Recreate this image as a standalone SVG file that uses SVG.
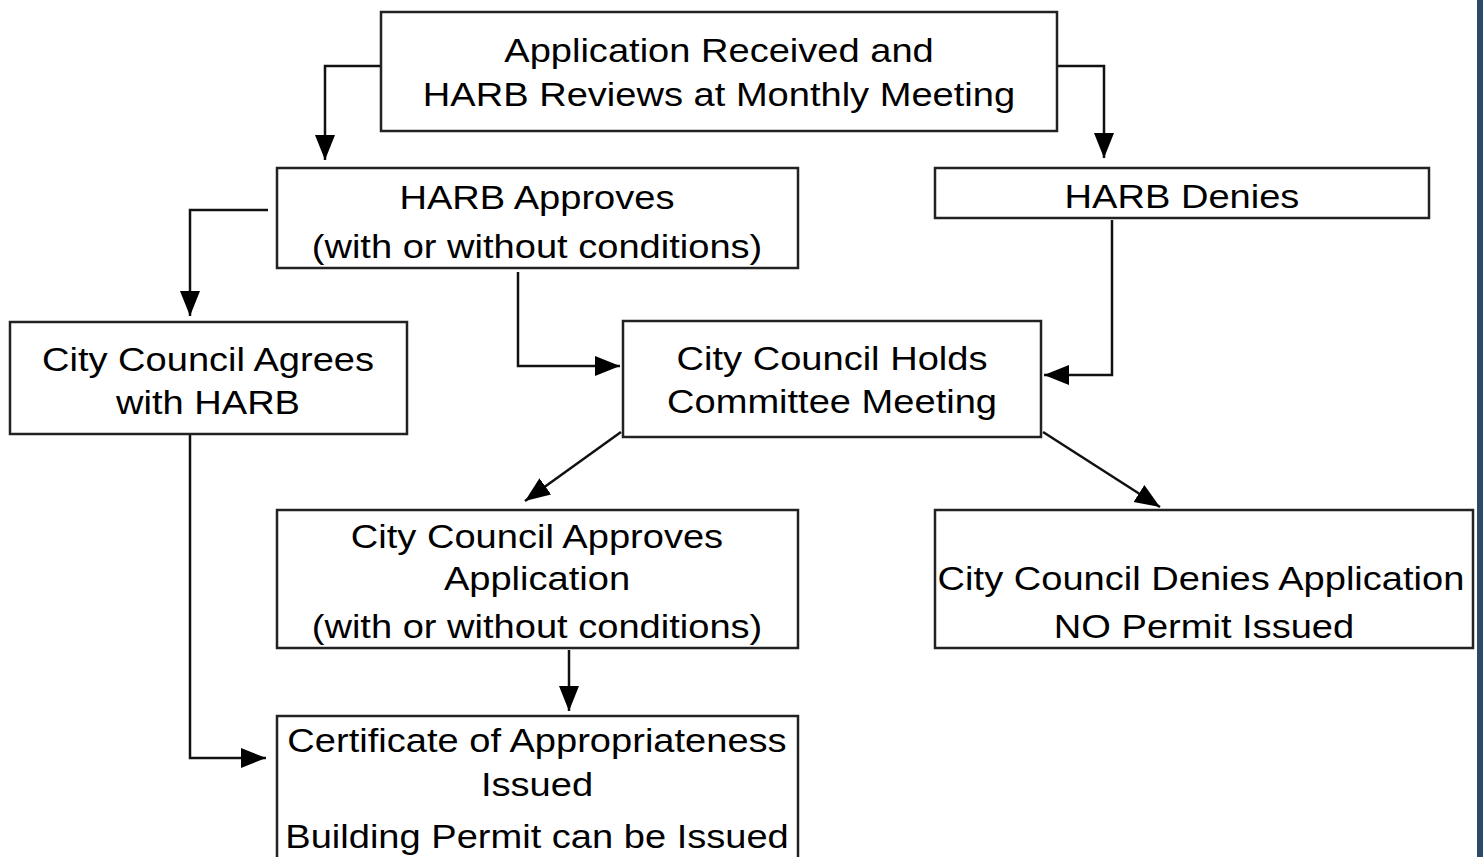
<svg xmlns="http://www.w3.org/2000/svg" width="1483" height="857" viewBox="0 0 1483 857">
<style>
.box{fill:#fff;stroke:#222;stroke-width:2.5}
.t{font-family:"Liberation Sans",Arial,sans-serif;font-size:34px;fill:#000;text-anchor:middle}
.c{fill:none;stroke:#111;stroke-width:2.5}
</style>
<defs>
<marker id="a" viewBox="0 0 10 10" refX="10" refY="5" markerWidth="10" markerHeight="10" orient="auto" markerUnits="strokeWidth">
<path d="M0,1 L10,5 L0,9 z" fill="#000"/>
</marker>
</defs>
<rect width="1483" height="857" fill="#fff"/>
<rect x="1477" y="0" width="6" height="857" fill="#2b4a68"/>
<g id="connectors">
<path class="c" d="M381,66 H325 V160" marker-end="url(#a)"/>
<path class="c" d="M1057,66 H1104 V158" marker-end="url(#a)"/>
<path class="c" d="M268,210 H190 V316" marker-end="url(#a)"/>
<path class="c" d="M518,272 V366 H620" marker-end="url(#a)"/>
<path class="c" d="M1112,220 V375 H1044" marker-end="url(#a)"/>
<path class="c" d="M621,432 L525,501" marker-end="url(#a)"/>
<path class="c" d="M1043,432 L1160,507" marker-end="url(#a)"/>
<path class="c" d="M569,650 V711" marker-end="url(#a)"/>
<path class="c" d="M190,434 V758 H266" marker-end="url(#a)"/>
</g>
<g id="n1"><rect class="box" x="381" y="12" width="676" height="119"/>
<text class="t" transform="translate(719,62) scale(1.12,1)">Application Received and</text>
<text class="t" transform="translate(719,106) scale(1.12,1)">HARB Reviews at Monthly Meeting</text></g>
<g id="n2"><rect class="box" x="277" y="168" width="521" height="100"/>
<text class="t" transform="translate(537,209) scale(1.12,1)">HARB Approves</text>
<text class="t" transform="translate(537,258) scale(1.12,1)">(with or without conditions)</text></g>
<g id="n3"><rect class="box" x="935" y="168" width="494" height="50"/>
<text class="t" transform="translate(1182,208) scale(1.12,1)">HARB Denies</text></g>
<g id="n4"><rect class="box" x="10" y="322" width="397" height="112"/>
<text class="t" transform="translate(208,371) scale(1.12,1)">City Council Agrees</text>
<text class="t" transform="translate(208,414) scale(1.12,1)">with HARB</text></g>
<g id="n5"><rect class="box" x="623" y="321" width="418" height="116"/>
<text class="t" transform="translate(832,370) scale(1.12,1)">City Council Holds</text>
<text class="t" transform="translate(832,413) scale(1.12,1)">Committee Meeting</text></g>
<g id="n6"><rect class="box" x="277" y="510" width="521" height="138"/>
<text class="t" transform="translate(537,548) scale(1.12,1)">City Council Approves</text>
<text class="t" transform="translate(537,590) scale(1.12,1)">Application</text>
<text class="t" transform="translate(537,638) scale(1.12,1)">(with or without conditions)</text></g>
<g id="n7"><rect class="box" x="935" y="510" width="538" height="138"/>
<text class="t" transform="translate(1201,590) scale(1.12,1)">City Council Denies Application</text>
<text class="t" transform="translate(1204,638) scale(1.12,1)">NO Permit Issued</text></g>
<g id="n8"><rect class="box" x="277" y="716" width="521" height="145"/>
<text class="t" transform="translate(537,752) scale(1.12,1)">Certificate of Appropriateness</text>
<text class="t" transform="translate(537,796) scale(1.12,1)">Issued</text>
<text class="t" transform="translate(537,848) scale(1.12,1)">Building Permit can be Issued</text></g>
</svg>
